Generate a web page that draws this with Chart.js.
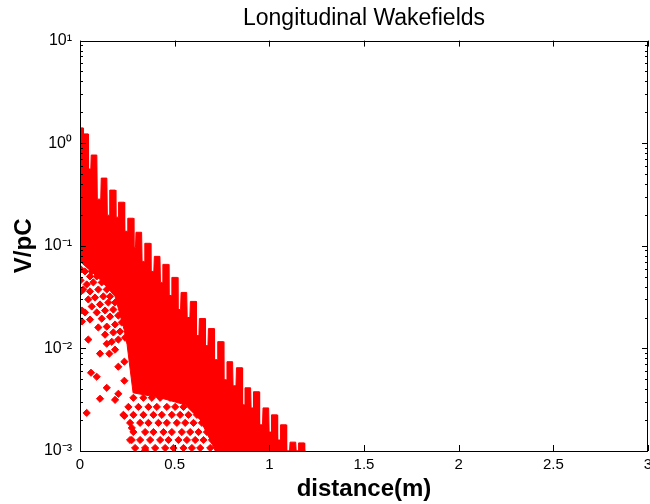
<!DOCTYPE html>
<html>
<head>
<meta charset="utf-8">
<script src="https://cdn.jsdelivr.net/npm/chart.js@4"></script>
<style>
  html, body { margin: 0; padding: 0; background: #fff; overflow: hidden; }
  #wrap { position: relative; width: 653px; height: 504px; }
</style>
</head>
<body>
<div id="wrap"><canvas id="myChart"></canvas></div>
<script>
// upper envelope of the wakefield points (distance in m, wake in V/pC)
const envDist = [
  0, 0.0159, 0.0175, 0.0423, 0.045, 0.0571,
  0.0593, 0.0889, 0.0915, 0.1095,
  0.1122, 0.1418, 0.1444, 0.1545,
  0.1571, 0.1868, 0.1894, 0.2011,
  0.2037, 0.2333, 0.2360, 0.2497,
  0.2524, 0.2820, 0.2847, 0.2931,
  0.2958, 0.3254, 0.3280, 0.3397,
  0.3423, 0.3720, 0.3746, 0.3899,
  0.3926, 0.4222, 0.4249, 0.4349,
  0.4376, 0.4672, 0.4698, 0.4825,
  0.4852, 0.5148, 0.5175, 0.5312,
  0.5339, 0.5635, 0.5661, 0.5804,
  0.5831, 0.6127, 0.6153, 0.6280,
  0.6307, 0.6603, 0.6630, 0.6757,
  0.6783, 0.7079, 0.7106, 0.7249,
  0.7275, 0.7571, 0.7598, 0.7735,
  0.7762, 0.8058, 0.8085, 0.8238,
  0.8265, 0.8561, 0.8587, 0.8688,
  0.8714, 0.9011, 0.9037, 0.9138,
  0.9164, 0.9460, 0.9487, 0.9640,
  0.9667, 0.9963, 0.9989, 1.0090,
  1.0116, 1.0413, 1.0439, 1.0566,
  1.0593, 1.0889, 1.0915, 1.1069,
  1.1095, 1.1392, 1.1418, 1.1519,
  1.1545, 1.1841, 1.1868
];
const envWake = [
  1.41, 1.41, 1.232, 1.232, 0.560, 0.560,
  0.767, 0.767, 0.285, 0.285,
  0.457, 0.457, 0.1987, 0.1987,
  0.349, 0.349, 0.190, 0.190,
  0.266, 0.266, 0.1386, 0.1386,
  0.1857, 0.1857, 0.0967, 0.0967,
  0.1355, 0.1355, 0.0705, 0.0705,
  0.1058, 0.1058, 0.0563, 0.0563,
  0.0789, 0.0789, 0.0440, 0.0440,
  0.0659, 0.0659, 0.0328, 0.0328,
  0.0492, 0.0492, 0.0239, 0.0239,
  0.0351, 0.0351, 0.0200, 0.0200,
  0.0287, 0.0287, 0.01333, 0.01333,
  0.01954, 0.01954, 0.01064, 0.01064,
  0.0156, 0.0156, 0.00776, 0.00776,
  0.01164, 0.01164, 0.00495, 0.00495,
  0.00742, 0.00742, 0.00432, 0.00432,
  0.00648, 0.00648, 0.00282, 0.00282,
  0.00413, 0.00413, 0.00263, 0.00263,
  0.00378, 0.00378, 0.00180, 0.00180,
  0.00263, 0.00263, 0.00153, 0.00153,
  0.00225, 0.00225, 0.00128, 0.00128,
  0.00180, 0.00180, 0.001, 0.001,
  0.00122, 0.00122, 0.001, 0.001,
  0.00120, 0.00120, 0.001
];

// lower edge of the solid part
const lowDist = [0, 0.1058, 0.1852, 0.2328, 0.2487, 0.2804, 0.4233, 0.5556, 0.6349, 0.6878, 0.7143, 1.1905];
const lowWake = [0.0705, 0.0470, 0.0321, 0.01526, 0.01088, 0.00369, 0.00330, 0.00282, 0.00201, 0.00128, 0.001, 0.001];

// loose points below the solid part
const dotDist = [
  0.0053, 0.0026, 0.0053, 0.0106, 0.0106,
  0.0439, 0.0265, 0.0619, 0.0529, 0.0884, 0.0354, 0.0704, 0.1148, 0.0175, 0.0529,
  0.0968, 0.1413, 0.0439, 0.0794, 0.1233, 0.1587, 0.0619, 0.1058, 0.1497, 0.1852,
  0.0265, 0.0884, 0.1323, 0.1762, 0.0529, 0.1148, 0.1587, 0.2026, 0.0968, 0.1413,
  0.1852, 0.2206, 0.1323, 0.1762, 0.2116, 0.0439, 0.1677, 0.2026, 0.2381,
  0.1413, 0.1058, 0.1550, 0.1852, 0.2344, 0.2026, 0.0582, 0.0884, 0.2344, 0.1413,
  0.2026, 0.1058, 0.1852, 0.0354, 0.2344, 0.2735, 0.2735, 0.3439,
  0.2820, 0.3349, 0.3794, 0.4233, 0.4762, 0.5201,
  0.2556, 0.3085, 0.3614, 0.4058, 0.4587, 0.5026, 0.5466, 0.5910,
  0.2291, 0.2820, 0.3349, 0.3878, 0.4323, 0.4852, 0.5291, 0.5730, 0.6175,
  0.2646, 0.3175, 0.3614, 0.4143, 0.4587, 0.5116, 0.5556, 0.5995, 0.6439,
  0.2820, 0.3439, 0.3878, 0.4407, 0.4852, 0.5381, 0.5820, 0.6259, 0.6704,
  0.2646, 0.3175, 0.3704, 0.4233, 0.4672, 0.5201, 0.5646, 0.6085, 0.6524, 0.6968,
  0.2910, 0.3439, 0.3968, 0.4497, 0.4937, 0.5466, 0.5910, 0.6349, 0.6878, 0.7317
];
const dotWake = [
  0.0589, 0.0460, 0.0359, 0.0234, 0.0183,
  0.0690, 0.0563, 0.0563, 0.0503, 0.0503, 0.0420, 0.0440, 0.0440, 0.0375, 0.0359,
  0.0375, 0.0375, 0.0300, 0.0313, 0.0321, 0.0321, 0.0256, 0.0268, 0.0280, 0.0280,
  0.0224, 0.0224, 0.0234, 0.0239, 0.0191, 0.0195, 0.0204, 0.0209, 0.0160, 0.0163,
  0.0171, 0.0179, 0.0136, 0.0143, 0.0146, 0.0122, 0.0116, 0.0122, 0.0127,
  0.0111, 0.00889, 0.00889, 0.00972, 0.00742, 0.00663, 0.00579, 0.00529, 0.00484, 0.00413,
  0.00361, 0.00323, 0.00315, 0.00235, 0.00220, 0.00168, 0.00128, 0.00102,
  0.00330, 0.00330, 0.00330, 0.00330, 0.00330, 0.00330,
  0.00269, 0.00269, 0.00269, 0.00269, 0.00269, 0.00269, 0.00269, 0.00269,
  0.00225, 0.00225, 0.00225, 0.00225, 0.00225, 0.00225, 0.00225, 0.00225, 0.00225,
  0.00188, 0.00188, 0.00188, 0.00188, 0.00188, 0.00188, 0.00188, 0.00188, 0.00188,
  0.00153, 0.00153, 0.00153, 0.00153, 0.00153, 0.00153, 0.00153, 0.00153, 0.00153,
  0.00128, 0.00128, 0.00128, 0.00128, 0.00128, 0.00128, 0.00128, 0.00128, 0.00128, 0.00128,
  0.00107, 0.00107, 0.00107, 0.00107, 0.00107, 0.00107, 0.00107, 0.00107, 0.00107, 0.00107
];

const xTicks = [0, 0.5, 1, 1.5, 2, 2.5, 3];
const xTickLabels = ["0", "0.5", "1", "1.5", "2", "2.5", "3"];
const yTicks = [0.001, 0.01, 0.1, 1, 10];
const yTickLabels = ["10\u207B\u00B3", "10\u207B\u00B2", "10\u207B\u00B9", "10\u2070", "10\u00B9"];

const zip = (xs, ys) => xs.map((v, i) => ({ x: v, y: ys[i] }));
const RED = "rgb(255, 0, 0)";
const FONT = "'Liberation Sans', Arial, Helvetica, sans-serif";

// box round the axes with inward ticks, like matlab
const frame = {
  id: "frame",
  afterDatasetsDraw(chart) {
    const { ctx, chartArea: a, scales } = chart;
    const x = scales.x, y = scales.y;
    ctx.save();
    ctx.strokeStyle = "#000";
    ctx.lineWidth = 1;
    ctx.beginPath();
    xTicks.forEach((v) => {
      const px = Math.round(x.getPixelForValue(v)) + 0.5;
      ctx.moveTo(px, a.bottom);
      ctx.lineTo(px, a.bottom - 6);
      ctx.moveTo(px, a.top);
      ctx.lineTo(px, a.top + 6);
    });
    for (let k = 0; k < yTicks.length - 1; k++) {
      for (let m = 1; m <= 9; m++) {
        const py = Math.round(y.getPixelForValue(m * yTicks[k])) + 0.5;
        const len = m === 1 ? 6 : 3;
        ctx.moveTo(a.left, py);
        ctx.lineTo(a.left + len, py);
        ctx.moveTo(a.right, py);
        ctx.lineTo(a.right - len, py);
      }
    }
    ctx.stroke();
    ctx.strokeRect(Math.round(a.left) + 0.5, Math.round(a.top) + 0.5,
      Math.round(a.right - a.left) - 1, Math.round(a.bottom - a.top));
    ctx.restore();
  },
};

new Chart(document.getElementById("myChart"), {
  type: "line",
  data: {
    datasets: [
      {
        data: zip(envDist, envWake),
        borderColor: RED,
        borderWidth: 1,
        backgroundColor: RED,
        fill: 1,
        pointRadius: 0,
        tension: 0,
      },
      {
        data: zip(lowDist, lowWake),
        borderColor: RED,
        borderWidth: 1,
        fill: false,
        pointRadius: 0,
        tension: 0,
      },
      {
        data: zip(dotDist, dotWake),
        showLine: false,
        pointStyle: "rectRot",
        pointRadius: 3.6,
        pointBorderWidth: 1,
        pointBackgroundColor: RED,
        pointBorderColor: RED,
      },
    ],
  },
  options: {
    animation: false,
    responsive: true,
    maintainAspectRatio: false,
    layout: { padding: { left: 0, right: 0, top: 0, bottom: 0 } },
    scales: {
      x: {
        type: "linear",
        min: 0,
        max: 3,
        afterBuildTicks: (s) => { s.ticks = xTicks.map((v) => ({ value: v })); },
        afterFit: (s) => { s.height = 53; s.paddingLeft = 0; s.paddingRight = 0; },
        ticks: {
          color: "#000",
          padding: 5,
          maxRotation: 0,
          autoSkip: false,
          font: { family: FONT, size: 15 },
          callback: (v, i) => xTickLabels[i],
        },
        grid: { display: false, drawTicks: false, tickLength: 0 },
        border: { display: false },
        title: {
          display: true,
          text: "distance(m)",
          color: "#000",
          padding: { top: 0, bottom: 0 },
          font: { family: FONT, size: 24, weight: "bold" },
        },
      },
      y: {
        type: "logarithmic",
        min: 0.001,
        max: 10,
        afterBuildTicks: (s) => { s.ticks = yTicks.map((v) => ({ value: v })); },
        afterFit: (s) => { s.width = 80; },
        ticks: {
          color: "#000",
          padding: 8,
          autoSkip: false,
          font: { family: FONT, size: 16 },
          callback: (v, i) => yTickLabels[i],
        },
        grid: { display: false, drawTicks: false, tickLength: 0 },
        border: { display: false },
        title: {
          display: true,
          text: "V/pC",
          color: "#000",
          padding: { top: 10, bottom: 0 },
          font: { family: FONT, size: 24, weight: "bold" },
        },
      },
    },
    plugins: {
      legend: { display: false },
      tooltip: { enabled: false },
      title: {
        display: true,
        text: "Longitudinal Wakefields",
        color: "#000",
        fullSize: false,
        padding: { top: 5, bottom: 8 },
        font: { family: FONT, size: 23, weight: "normal" },
      },
    },
  },
  plugins: [frame],
});
</script>
</body>
</html>
